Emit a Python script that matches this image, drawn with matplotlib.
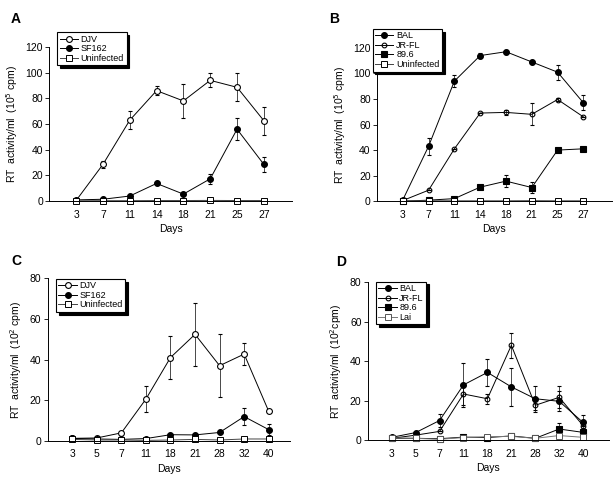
import matplotlib
matplotlib.use('Agg')
import matplotlib.pyplot as plt
from matplotlib.lines import Line2D
import numpy as np

plt.rcParams['font.family'] = ['Liberation Sans', 'DejaVu Sans']

# --- data ---
DAYS_AB = ['3', '7', '11', '14', '18', '21', '25', '27']
DAYS_CD = ['3', '5', '7', '11', '18', '21', '28', '32', '40']

A_DJV = [0.5, 28.6, 63, 86, 78, 94, 88.6, 62.6]
A_DJV_ERR = [0, 3, 7, 3.5, 13, 5.5, 11, 11]
A_SF162 = [1, 1.5, 4, 13.8, 5.5, 17.4, 56, 28.6]
A_SF162_ERR = [0, 0, 0, 0, 0, 4, 8.5, 6]
A_UNINF = [0.3, 0.4, 0.4, 0.5, 0.5, 0.6, 0.5, 0.5]

B_BAL = [1, 43, 94, 114, 117, 109, 101, 77]
B_BAL_ERR = [0, 6.5, 5, 2, 1.5, 0, 6, 6]
B_JRFL = [0.5, 8.6, 41, 69, 69.5, 68, 79.6, 66]
B_JRFL_ERR = [0, 0, 0, 0, 2, 8.5, 1.5, 0]
B_896 = [0, 0.8, 2, 11, 15.7, 10.7, 40, 41]
B_896_ERR = [0, 0, 0, 0, 4.5, 4, 1.5, 0]
B_UNINF = [0.3, 0.3, 0.3, 0.3, 0.3, 0.4, 0.3, 0.3]

C_DJV = [1.3, 1.5, 4, 20.6, 41, 52.4, 37, 42.7, 14.6]
C_DJV_ERR = [0, 0, 0, 6.5, 10.5, 15.4, 15.5, 5.6, 0]
C_SF162 = [1.3, 1, 0.8, 1.2, 3.1, 3, 4.2, 12, 5.6]
C_SF162_ERR = [0, 0, 0, 0, 0, 0, 0, 4, 2.8]
C_UNINF = [0.8, 0.5, 0.5, 0.3, 0.5, 0.8, 0.5, 1, 1]

D_BAL = [1.5, 3.9, 10, 28, 34.3, 27, 21, 19.7, 9]
D_BAL_ERR = [0, 0, 3.3, 11, 7, 9.5, 6.6, 5, 4]
D_JRFL = [1, 2.6, 4.5, 23.4, 21, 48, 17.7, 21.7, 7.4]
D_JRFL_ERR = [0, 0, 0, 5.7, 2.5, 6.4, 2.5, 5.5, 0]
D_896 = [1, 1, 0.8, 1.6, 1.4, 2.2, 1, 5.7, 4]
D_896_ERR = [0, 0, 0, 0, 0, 0, 0, 3, 2]
D_LAI = [1.2, 1, 0.5, 1.4, 1.8, 2, 1, 2.4, 1.5]

STYLES = {
    'open_circle': dict(marker='o', mfc='white', mec='black', ms=4.2, mew=0.8),
    'filled_circle': dict(marker='o', mfc='black', mec='black', ms=4.2, mew=0.8),
    'small_open': dict(marker='o', mfc='none', mec='black', ms=3.4, mew=0.8),
    'filled_square': dict(marker='s', mfc='black', mec='black', ms=3.8, mew=0.8),
    'open_square': dict(marker='s', mfc='white', mec='black', ms=3.8, mew=0.7),
    'gray_square': dict(marker='s', mfc='white', mec='#555555', ms=3.8, mew=0.7),
}


def draw_panel(fig, rect, days, series, ymax, ystep, ylabel, xmax, legend_box, letter, letter_pos):
    ax = fig.add_axes(rect)
    x = np.arange(len(days))
    handles = []
    for label, y, err, style, color in series:
        ax.errorbar(x, y, yerr=err, color=color, lw=0.7,
                    capsize=1.6, elinewidth=0.5, capthick=0.5, clip_on=False, **STYLES[style])
        handles.append(Line2D([], [], color=color, lw=0.7, label=label, **STYLES[style]))
    ax.set_xlim(-1, xmax)
    ax.set_ylim(0, ymax)
    ax.set_xticks(x)
    ax.set_xticklabels(days)
    ax.set_yticks(np.arange(0, ymax + 1, ystep))
    ax.spines['top'].set_visible(False)
    ax.spines['right'].set_visible(False)
    for s in ('left', 'bottom'):
        ax.spines[s].set_linewidth(0.7)
    ax.tick_params(axis='y', length=3, width=0.6, labelsize=7.5, pad=1.5)
    ax.tick_params(axis='x', length=0, labelsize=7.5, pad=6)
    ax.set_xlabel('Days', fontsize=7.5, labelpad=3)
    ax.set_ylabel(ylabel, fontsize=7.5, labelpad=4)
    leg = ax.legend(handles=handles, loc='upper left', bbox_to_anchor=legend_box,
                    bbox_transform=fig.transFigure,
                    fontsize=6.5, frameon=True, fancybox=False, edgecolor='black', framealpha=1,
                    shadow={'color': 'black', 'alpha': 1, 'ox': 2, 'oy': -2},
                    handlelength=2.0, handletextpad=0.3, borderpad=0.3, labelspacing=0.05,
                    borderaxespad=0)
    leg.get_frame().set_linewidth(0.8)
    fig.text(letter_pos[0], letter_pos[1], letter, fontsize=10, fontweight='bold',
             ha='left', va='top')
    return ax


fig = plt.figure(figsize=(6.13, 4.79), dpi=100)

draw_panel(fig, [0.0804, 0.580, 0.396, 0.322], DAYS_AB,
           [('DJV', A_DJV, A_DJV_ERR, 'open_circle', 'black'),
            ('SF162', A_SF162, A_SF162_ERR, 'filled_circle', 'black'),
            ('Uninfected', A_UNINF, None, 'open_square', '#444444')],
           120, 20, 'RT  activity/ml  (10$^5$ cpm)', 8.05,
           (0.093, 0.933), 'A', (0.018, 0.975))

draw_panel(fig, [0.615, 0.580, 0.383, 0.320], DAYS_AB,
           [('BAL', B_BAL, B_BAL_ERR, 'filled_circle', 'black'),
            ('JR-FL', B_JRFL, B_JRFL_ERR, 'small_open', 'black'),
            ('89.6', B_896, B_896_ERR, 'filled_square', 'black'),
            ('Uninfected', B_UNINF, None, 'open_square', '#444444')],
           120, 20, 'RT  activity/ml  (10$^5$ cpm)', 8.1,
           (0.608, 0.940), 'B', (0.537, 0.975))

draw_panel(fig, [0.0778, 0.0793, 0.395, 0.340], DAYS_CD,
           [('DJV', C_DJV, C_DJV_ERR, 'open_circle', 'black'),
            ('SF162', C_SF162, C_SF162_ERR, 'filled_circle', 'black'),
            ('Uninfected', C_UNINF, None, 'open_square', '#444444')],
           80, 20, 'RT  activity/ml  (10$^2$ cpm)', 8.86,
           (0.091, 0.418), 'C', (0.018, 0.470))

draw_panel(fig, [0.600, 0.0808, 0.393, 0.3305], DAYS_CD,
           [('BAL', D_BAL, D_BAL_ERR, 'filled_circle', 'black'),
            ('JR-FL', D_JRFL, D_JRFL_ERR, 'small_open', 'black'),
            ('89.6', D_896, D_896_ERR, 'filled_square', 'black'),
            ('Lai', D_LAI, None, 'gray_square', '#777777')],
           80, 20, 'RT  activity/ml  (10$^2$cpm)', 9.07,
           (0.613, 0.412), 'D', (0.548, 0.468))

fig.savefig('out.png', dpi=100)
